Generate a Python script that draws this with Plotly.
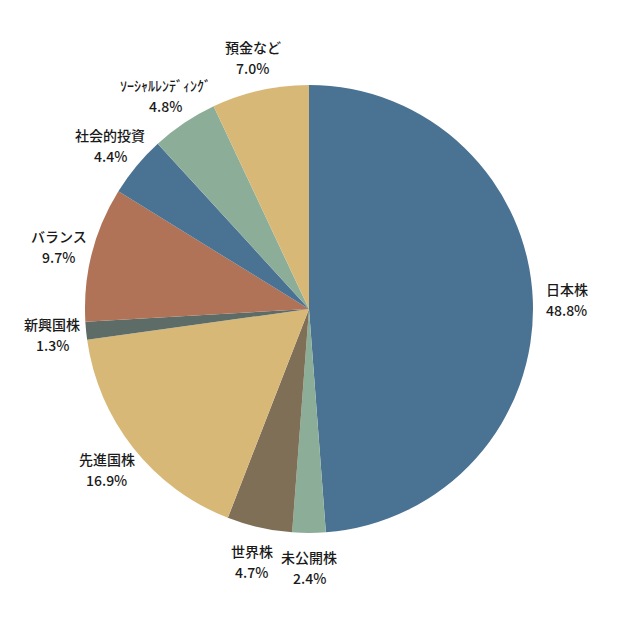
import math
import plotly.graph_objects as go

# portfolio breakdown, clockwise from 12 o'clock
labels = ['日本株', '未公開株', '世界株', '先進国株', '新興国株',
          'バランス', '社会的投資', 'ｿｰｼｬﾙﾚﾝﾃﾞｨﾝｸﾞ', '預金など']
shares = [48.8, 2.4, 4.7, 16.9, 1.3, 9.7, 4.4, 4.8, 7.0]
colors = ['#4a7293', '#8cae98', '#7f6f57', '#d8b877', '#5e6c67',
          '#b07358', '#4a7293', '#8cae98', '#d8b877']

W = 618
pie_r = 224      # pie radius in px
label_r = 258    # label distance from centre in px
cx = 301 / W     # pie centre (page has an 8px body margin)
cy = 317 / W

fig = go.Figure(go.Pie(
    labels=labels,
    values=shares,
    sort=False,
    direction='clockwise',
    rotation=0,
    marker=dict(colors=colors, line=dict(width=0)),
    textinfo='none',
    hoverinfo='label+percent',
    showlegend=False,
    domain=dict(x=[cx - pie_r / W, cx + pie_r / W],
                y=[cy - pie_r / W, cy + pie_r / W]),
))

# labels placed around the pie at each slice's mid angle
total = sum(shares)
cum = 0
for name, v in zip(labels, shares):
    mid = (cum + v / 2) / total * 2 * math.pi
    cum += v
    x = cx + label_r * math.sin(mid) / W
    y = cy + label_r * math.cos(mid) / W
    font = dict(family='Noto Sans CJK JP', size=14, color='#1a1a1a', weight=500)
    fig.add_annotation(x=x, y=y, xref='paper', yref='paper', text=name,
                       showarrow=False, font=font, yshift=10,
                       xanchor='center', yanchor='middle')
    fig.add_annotation(x=x, y=y, xref='paper', yref='paper', text=f'{v:.1f}%',
                       showarrow=False, font=font, yshift=-11,
                       xanchor='center', yanchor='middle')

fig.update_layout(
    width=W, height=W,
    margin=dict(l=0, r=0, t=0, b=0),
    paper_bgcolor='white',
    plot_bgcolor='white',
)

fig.write_html('out.html')
